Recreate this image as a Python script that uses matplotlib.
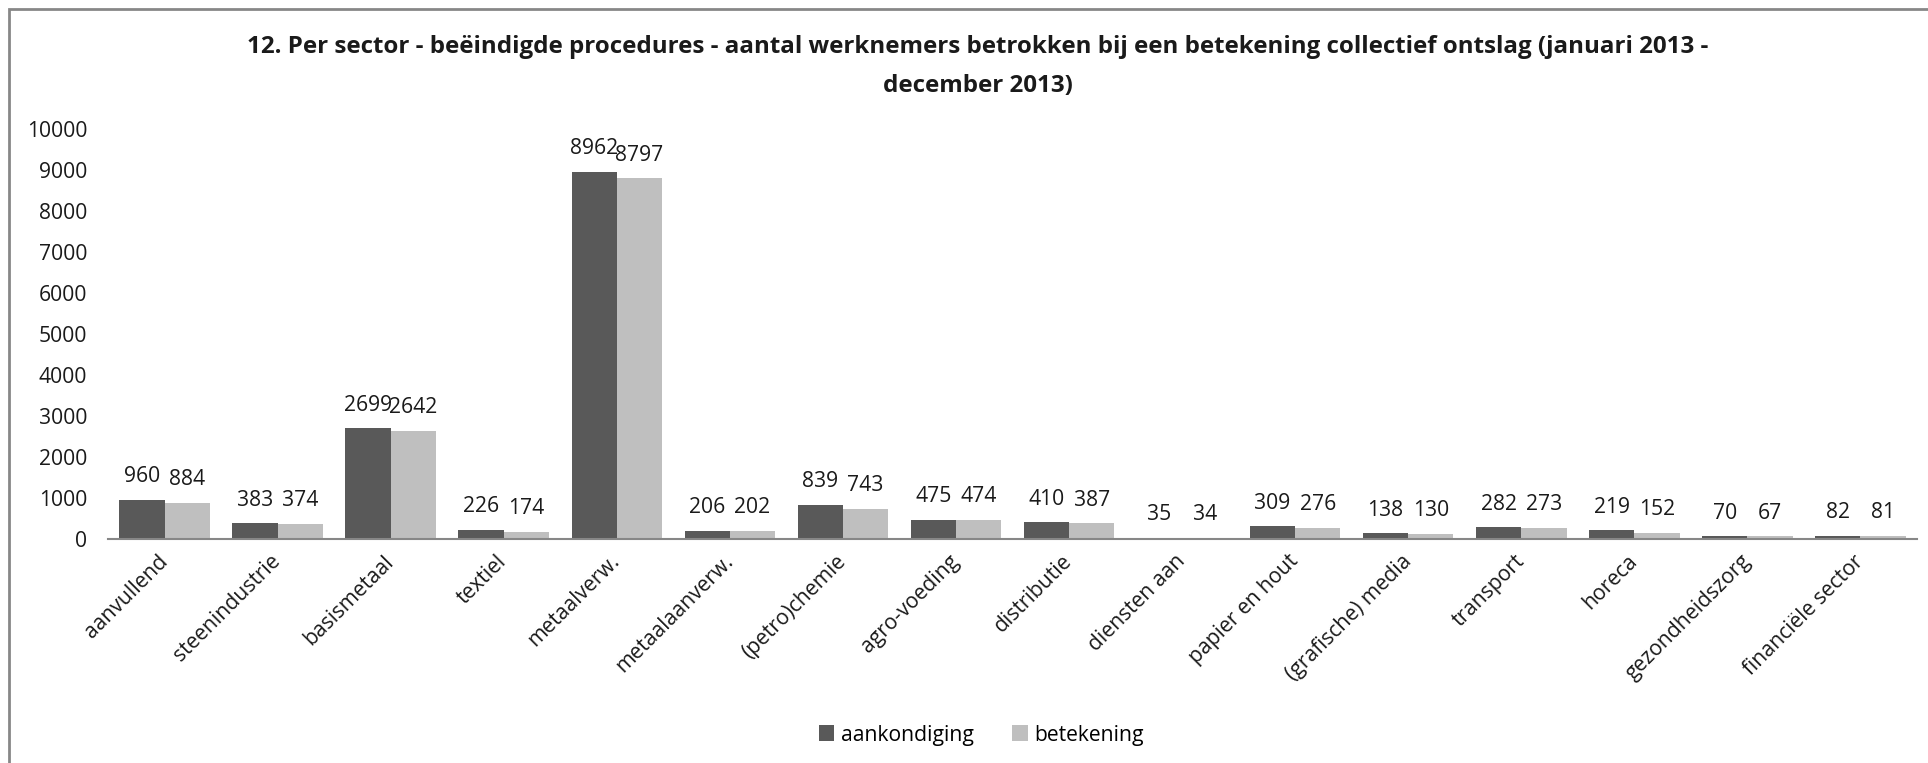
import numpy as np
import matplotlib.pyplot as plt
from matplotlib.patches import Rectangle
from matplotlib.transforms import ScaledTranslation

sectors = ['aanvullend', 'steenindustrie', 'basismetaal', 'textiel', 'metaalverw.',
           'metaalaanverw.', '(petro)chemie', 'agro-voeding', 'distributie', 'diensten aan',
           'papier en hout', '(grafische) media', 'transport', 'horeca', 'gezondheidszorg',
           'financiële sector']
aankondiging = [960, 383, 2699, 226, 8962, 206, 839, 475, 410, 35, 309, 138, 282, 219, 70, 82]
betekening = [884, 374, 2642, 174, 8797, 202, 743, 474, 387, 34, 276, 130, 273, 152, 67, 81]
series_names = ['aankondiging', 'betekening']
title_lines = ['12. Per sector - beëindigde procedures - aantal werknemers betrokken bij een betekening collectief ontslag (januari 2013 -',
               'december 2013)']
yticks = [0, 1000, 2000, 3000, 4000, 5000, 6000, 7000, 8000, 9000, 10000]

DARK = '#595959'
LIGHT = '#bfbfbf'
FRAME = '#878787'
FONT = 'Open Sans'
FS = 15.2

plt.rcParams['font.family'] = [FONT, 'DejaVu Sans']

fig = plt.figure(figsize=(19.28, 7.63), dpi=100)
ax = fig.add_axes([108 / 1928, 1 - 539 / 763, (1917 - 108) / 1928, (539 - 129) / 763])

x = np.arange(len(sectors))
w = 0.4
b1 = ax.bar(x - w / 2, aankondiging, w, color=DARK, label=series_names[0])
b2 = ax.bar(x + w / 2, betekening, w, color=LIGHT, label=series_names[1])

for bars, vals in [(b1, aankondiging), (b2, betekening)]:
    for rect, v in zip(bars, vals):
        ax.annotate(str(v), (rect.get_x() + rect.get_width() / 2, v),
                    xytext=(0, 9), textcoords='offset points',
                    ha='center', va='bottom', fontsize=FS, color='#1a1a1a')

ax.set_xlim(-0.5, len(sectors) - 0.5)
ax.set_ylim(0, 10000)
ax.set_yticks(yticks)
ax.set_yticklabels([str(t) for t in yticks])
ax.set_xticks(x)
ax.set_xticklabels(sectors, rotation=45, ha='right', va='center', rotation_mode='anchor')
# shift rotated labels a bit to the right, like Excel does
for lbl in ax.get_xticklabels():
    lbl.set_transform(lbl.get_transform() + ScaledTranslation(24 / 100, 0, fig.dpi_scale_trans))
ax.tick_params(axis='y', length=0, pad=15, labelsize=FS, labelcolor='#1a1a1a')
ax.tick_params(axis='x', length=0, pad=14, labelsize=FS, labelcolor='#1a1a1a')

for s in ['top', 'right', 'left']:
    ax.spines[s].set_visible(False)
ax.spines['bottom'].set_color(FRAME)
ax.spines['bottom'].set_linewidth(1.5)

for i, line in enumerate(title_lines):
    fig.text(978 / 1928, 1 - (47 + 39 * i) / 763, line, ha='center', va='center',
             fontsize=17.4, fontweight='bold', color='#1a1a1a')

fig.legend(loc='center', bbox_to_anchor=(981 / 1928, 1 - 735 / 763), ncol=2, frameon=False,
           fontsize=FS, handlelength=0.75, handleheight=0.75, handletextpad=0.3, columnspacing=1.8)

# chart frame
fig.patches.append(Rectangle((9 / 1928, -0.01), 1.1, 1 - 9 / 763 + 0.01, transform=fig.transFigure,
                             fill=False, edgecolor=FRAME, linewidth=2))

fig.savefig('out.png', dpi=100)
